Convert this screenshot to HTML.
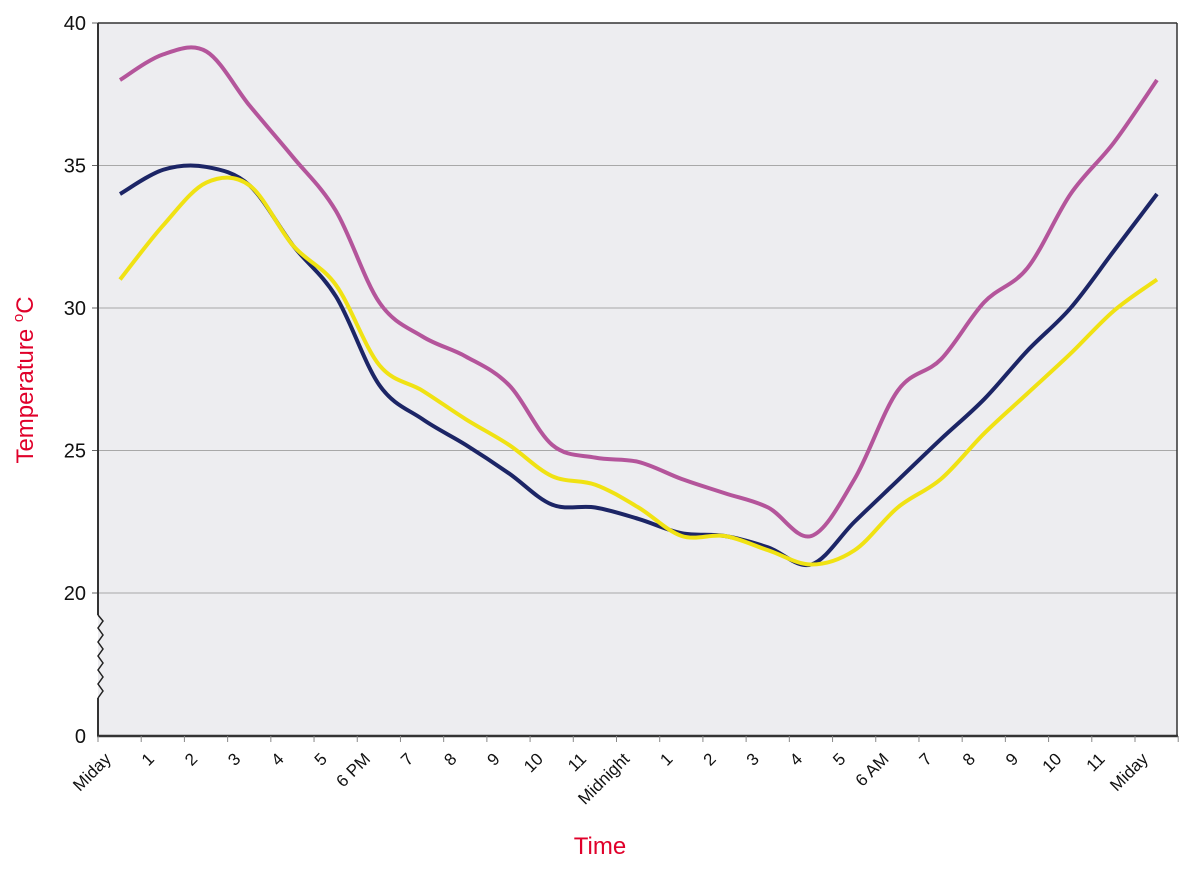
<!DOCTYPE html>
<html><head><meta charset="utf-8"><style>
body{margin:0;background:#fff;}
svg text{font-family:"Liberation Sans",sans-serif;}
</style></head><body>
<svg id="chart" width="1200" height="873" xmlns="http://www.w3.org/2000/svg">
<rect x="98" y="23" width="1079" height="713" fill="#ededf0"/>
<g id="grid"></g>
<g id="series"></g>
<line x1="1177" y1="23" x2="1177" y2="736" stroke="#333" stroke-width="1.5"/>
<line x1="98" y1="23" x2="98" y2="615" stroke="#333" stroke-width="2"/>
<line x1="98" y1="698" x2="98" y2="736" stroke="#333" stroke-width="2"/>
<polyline points="98,615 103,621 98,628 103,635 98,642 103,649 98,656 103,663 98,670 103,677 98,684 103,691 98,698" fill="none" stroke="#222" stroke-width="1.5"/>
<line x1="97" y1="736" x2="1178" y2="736" stroke="#333" stroke-width="2.5"/>
<g id="xticks"></g>
<text transform="translate(33,380) rotate(-90)" text-anchor="middle" font-size="24" fill="#e0002a">Temperature <tspan font-size="15" dy="-10">o</tspan><tspan dy="10">C</tspan></text>
<text x="600" y="854" text-anchor="middle" font-size="24" fill="#e0002a">Time</text>
</svg>
<script>
const categories=["Miday","1","2","3","4","5","6 PM","7","8","9","10","11","Midnight","1","2","3","4","5","6 AM","7","8","9","10","11","Miday"];
const purpleValues=[38,38.9,39.0,37.1,35.3,33.4,30.2,29.0,28.3,27.3,25.2,24.75,24.6,24.0,23.5,23.0,22.0,24.0,27.1,28.2,30.2,31.4,34.0,35.8,38];
const navyValues=[34,34.85,34.95,34.3,32.2,30.4,27.3,26.1,25.2,24.2,23.1,23.0,22.6,22.1,22.0,21.6,21.0,22.5,23.95,25.4,26.8,28.5,30.0,32.0,34];
const yellowValues=[31,32.9,34.4,34.3,32.2,30.8,28.0,27.1,26.1,25.2,24.1,23.8,23.0,22.0,22.0,21.5,21.0,21.5,23.0,24.0,25.6,27.0,28.4,29.9,31];
const yTickValues=[20,25,30,35,40];
const svg=document.getElementById('chart');
const NS='http://www.w3.org/2000/svg';
function xScale(i){return 120+i*(1157-120)/(categories.length-1);}
function yScale(v){return 593-(v-20)*28.5;}
function mk(t,a,parent){const e=document.createElementNS(NS,t);for(const k in a)e.setAttribute(k,a[k]);parent.appendChild(e);return e;}
const grid=document.getElementById('grid');
yTickValues.forEach(v=>{
  if(v!==40){const l=mk('line',{x1:98,x2:1177,y1:yScale(v),y2:yScale(v),stroke:'#a8a8a8','stroke-width':1},grid);
  
  }
  const tk=mk('line',{x1:92,x2:98,y1:yScale(v),y2:yScale(v),stroke:'#666','stroke-width':1},grid);
  
  
  const t=mk('text',{x:86,y:yScale(v)+7,'text-anchor':'end','font-size':20,fill:'#111'},grid);
  
  
  t.textContent=v;
});
mk('line',{x1:98,x2:1177,y1:23,y2:23,stroke:'#333','stroke-width':1.5},grid);
const zt=mk('text',{x:86,y:743,'text-anchor':'end','font-size':20,fill:'#111'},grid);


zt.textContent='0';
const xt=document.getElementById('xticks');
const step=(1157-120)/(categories.length-1);
for(let i=0;i<=categories.length;i++){
  const x=98+i*step;
  const tk=mk('line',{x1:x,x2:x,y1:736,y2:742,stroke:'#888','stroke-width':1},xt);
  
  
}
categories.forEach((c,i)=>{
  const x=xScale(i)-8;
  const t=mk('text',{transform:`translate(${x},760) rotate(-45)`,'text-anchor':'end','font-size':17,fill:'#111'},xt);
  
  
  t.textContent=c;
});
function path(vals){
  const p=vals.map((v,i)=>[xScale(i),yScale(v)]);
  let d=`M${p[0][0]},${p[0][1]}`;
  for(let i=0;i<p.length-1;i++){
    const p0=p[Math.max(0,i-1)],p1=p[i],p2=p[i+1],p3=p[Math.min(p.length-1,i+2)];
    const c1=[p1[0]+(p2[0]-p0[0])/6,p1[1]+(p2[1]-p0[1])/6];
    const c2=[p2[0]-(p3[0]-p1[0])/6,p2[1]-(p3[1]-p1[1])/6];
    d+=` C${c1[0]},${c1[1]} ${c2[0]},${c2[1]} ${p2[0]},${p2[1]}`;
  }
  return d;
}
const sg=document.getElementById('series');
const s1=mk('path',{d:path(purpleValues),fill:'none',stroke:'#b4559b','stroke-width':4,'stroke-linejoin':'round'},sg);


const s3=mk('path',{d:path(navyValues),fill:'none',stroke:'#1c2566','stroke-width':4,'stroke-linejoin':'round'},sg);


const s2=mk('path',{d:path(yellowValues),fill:'none',stroke:'#f0e213','stroke-width':4,'stroke-linejoin':'round'},sg);


</script>
</body></html>
